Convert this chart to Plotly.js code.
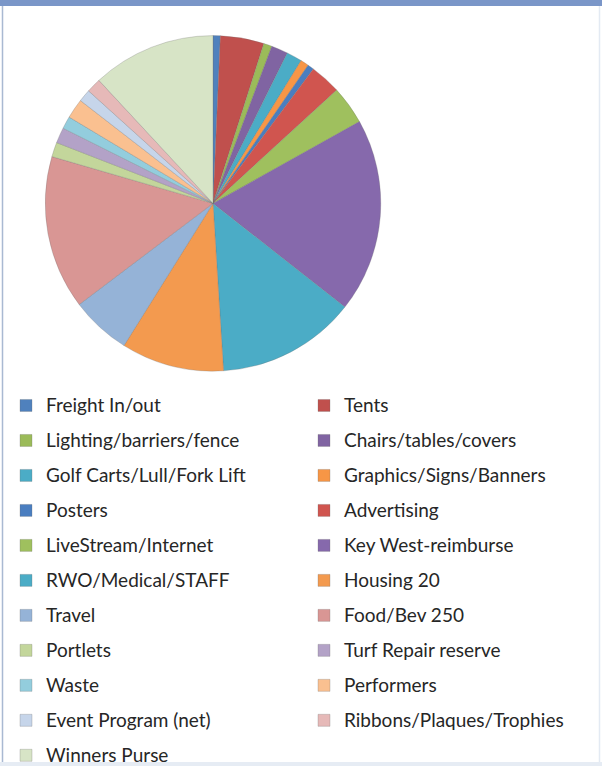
<!DOCTYPE html>
<html>
<head>
<meta charset="utf-8">
<script src="https://cdn.plot.ly/plotly-3.0.1.min.js"></script>
<style>
  html, body { margin: 0; padding: 0; background: #ffffff; }
  #chart { width: 602px; height: 776px; }
</style>
</head>
<body>
<div id="chart"></div>
<script>
// Categories (legend order = slice order, clockwise from 12 o'clock)
var categories = [
  "Freight In/out", "Tents",
  "Lighting/barriers/fence", "Chairs/tables/covers",
  "Golf Carts/Lull/Fork Lift", "Graphics/Signs/Banners",
  "Posters", "Advertising",
  "LiveStream/Internet", "Key West-reimburse",
  "RWO/Medical/STAFF", "Housing 20",
  "Travel", "Food/Bev 250",
  "Portlets", "Turf Repair reserve",
  "Waste", "Performers",
  "Event Program (net)", "Ribbons/Plaques/Trophies",
  "Winners Purse"
];

// Estimated share of total expenses (%)
var expenseShare = [
  0.7, 4.2,
  0.8, 1.6,
  1.5, 0.8,
  0.6, 3.0,
  3.7, 18.7,
  13.4, 9.9,
  5.8, 14.8,
  1.4, 1.5,
  1.2, 1.9,
  1.2, 1.4,
  11.9
];

var sliceColors = [
  "#4F81BD", "#C0504D",
  "#9BBB59", "#8064A2",
  "#4BACC6", "#F79646",
  "#4A7EC0", "#D0554F",
  "#9FC05E", "#8669AC",
  "#4BACC6", "#F39A4F",
  "#95B3D7", "#D99694",
  "#C3D69B", "#B3A2C7",
  "#93CDDD", "#FAC090",
  "#C6D5EA", "#E6B9B8",
  "#D7E4C6"
];

var W = 602, H = 776, ML = 5, MR = 5, MT = 5, MB = 5;
var pw = W - ML - MR, ph = H - MT - MB;
function px2x(p) { return (p - ML) / pw; }
function py2y(p) { return (H - MB - p) / ph; }

var legendLabels = categories.map(function (c) {
  return '<span style="font-size:19px;baseline-shift:3px">' + c + '</span>';
});

var trace = {
  type: 'pie',
  labels: legendLabels,
  values: expenseShare,
  sort: false,
  direction: 'clockwise',
  rotation: 0,
  textinfo: 'none',
  hoverinfo: 'label+percent',
  marker: {
    colors: sliceColors,
    line: { color: 'rgba(110,110,110,0.45)', width: 0.6 }
  },
  domain: { x: [px2x(43), px2x(383)], y: [py2y(376), py2y(36)] }
};

var layout = {
  width: W,
  height: H,
  margin: { l: ML, r: MR, t: MT, b: MB, pad: 0 },
  paper_bgcolor: '#ffffff',
  plot_bgcolor: '#ffffff',
  showlegend: true,
  font: { family: 'Lato, "Open Sans", sans-serif', color: '#262626' },
  legend: {
    orientation: 'h',
    x: px2x(10), xanchor: 'left',
    y: py2y(388), yanchor: 'top',
    entrywidth: 253, entrywidthmode: 'pixels',
    font: { size: 24.6, family: 'Lato, "Open Sans", sans-serif', color: '#262626' },
    traceorder: 'normal',
    bgcolor: 'rgba(0,0,0,0)'
  },
  shapes: [
    { type: 'rect', xref: 'paper', yref: 'paper',
      x0: px2x(0), x1: px2x(602), y0: py2y(6), y1: py2y(0),
      fillcolor: '#7A96C8', line: { width: 0 }, layer: 'above' },
    { type: 'line', xref: 'paper', yref: 'paper',
      x0: px2x(2.5), x1: px2x(2.5), y0: py2y(776), y1: py2y(6),
      line: { color: '#A9B9D2', width: 1.5 } },
    { type: 'line', xref: 'paper', yref: 'paper',
      x0: px2x(599.5), x1: px2x(599.5), y0: py2y(776), y1: py2y(6),
      line: { color: '#E3EAF3', width: 1.5 } },
    { type: 'line', xref: 'paper', yref: 'paper',
      x0: px2x(0), x1: px2x(602), y0: py2y(774), y1: py2y(774),
      line: { color: '#E6ECF4', width: 4 } }
  ]
};

Plotly.newPlot('chart', [trace], layout, { displayModeBar: false, staticPlot: true });
</script>
</body>
</html>
